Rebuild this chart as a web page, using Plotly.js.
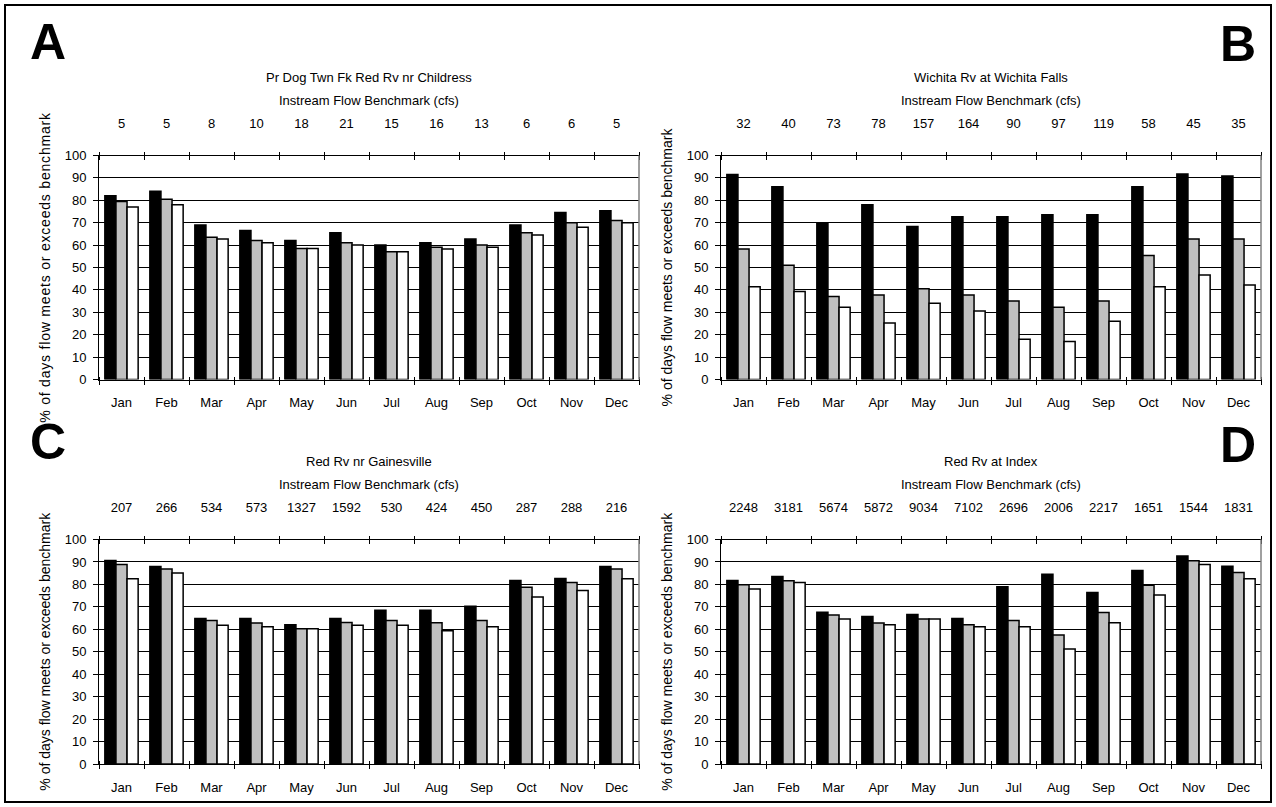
<!DOCTYPE html>
<html>
<head>
<meta charset="utf-8">
<script src="https://cdn.plot.ly/plotly-3.0.1.min.js"></script>
<style>
html,body{margin:0;padding:0;background:#fff;}
#chart{width:1276px;height:807px;}
#chart .ytitle{letter-spacing:0.8px;}
</style>
</head>
<body>
<div id="chart"></div>
<script>
// ---------------- data ----------------
const months = ['Jan','Feb','Mar','Apr','May','Jun','Jul','Aug','Sep','Oct','Nov','Dec'];

const titleA = 'Pr Dog Twn Fk Red Rv nr Childress';
const benchA = [5,5,8,10,18,21,15,16,13,6,6,5];
const seriesA1 = [82,84,69,66.5,62,65.5,60,61,62.7,69,74.5,75.3];
const seriesA2 = [79.5,80.5,63.5,62,58.5,61,57,59,60,65.5,70,71];
const seriesA3 = [77,78,62.7,61,58.5,60,57,58.3,59,64.5,68,70];

const titleB = 'Wichita Rv at Wichita Falls';
const benchB = [32,40,73,78,157,164,90,97,119,58,45,35];
const seriesB1 = [91.5,86,70,78,68.3,72.7,72.7,73.6,73.6,86,91.7,90.8];
const seriesB2 = [58.3,51,37,37.7,40.5,37.7,35,32.2,35,55.4,62.7,62.7];
const seriesB3 = [41.4,39.3,32.2,25.2,34,30.6,18,17,26,41.4,46.6,42.2];

const titleC = 'Red Rv nr Gainesville';
const benchC = [207,266,534,573,1327,1592,530,424,450,287,288,216];
const seriesC1 = [90.6,88,64.8,64.8,62,64.8,68.5,68.5,70.3,81.7,82.6,88];
const seriesC2 = [88.9,86.9,63.9,62.8,60.2,63,63.9,62.9,63.9,78.7,80.8,86.9];
const seriesC3 = [82.5,85.1,61.8,61.1,60.2,61.8,61.8,59.3,61.1,74.4,77.3,82.5];

const titleD = 'Red Rv at Index';
const benchD = [2248,3181,5674,5872,9034,7102,2696,2006,2217,1651,1544,1831];
const seriesD1 = [81.7,83.5,67.6,65.7,66.6,64.8,79,84.5,76.4,86.2,92.6,88.1];
const seriesD2 = [79.8,81.6,66.4,62.8,64.6,62,63.9,57.5,67.5,79.6,90.5,85.3];
const seriesD3 = [78,80.8,64.6,62,64.6,61.1,61.1,51.2,62.9,75.3,88.9,82.5];

const subTitle = 'Instream Flow Benchmark (cfs)';
const yTitle = '% of days flow meets or exceeds benchmark';
const barColors = ['#000000','#c0c0c0','#ffffff'];

// ---------------- layout geometry ----------------
const W = 1276, H = 807;
const F = 'Arial, "Liberation Sans", sans-serif';
const panels = [
  {letter:'A', title:titleA, bench:benchA, s:[seriesA1,seriesA2,seriesA3], x0:99,  x1:639,  yt:155.5, yb:379.5, lx:48,   ly:42},
  {letter:'B', title:titleB, bench:benchB, s:[seriesB1,seriesB2,seriesB3], x0:721, x1:1261, yt:155.5, yb:379.5, lx:1238, ly:44},
  {letter:'C', title:titleC, bench:benchC, s:[seriesC1,seriesC2,seriesC3], x0:99,  x1:639,  yt:539.5, yb:764,   lx:48,   ly:442},
  {letter:'D', title:titleD, bench:benchD, s:[seriesD1,seriesD2,seriesD3], x0:721, x1:1261, yt:539.5, yb:764,   lx:1238, ly:445}
];
const px = x => x / W;
const py = y => 1 - y / H;

const idx = months.map((m,k) => k);
const bounds = months.map((m,k) => k - 0.5).concat([months.length - 0.5]);

const traces = [];
const layout = {
  width: W, height: H, autosize: false,
  margin: {l:0, r:0, t:0, b:0},
  paper_bgcolor: '#fff', plot_bgcolor: 'rgba(0,0,0,0)',
  showlegend: false,
  barmode: 'group', bargap: 0.26, bargroupgap: 0,
  font: {family: F, size: 13, color: '#000'},
  annotations: [], shapes: []
};
const axName = (p, n) => (n === 1 ? p : p + n);
const tickFont = {family: F, size: 13, color: '#000'};

panels.forEach((p, i) => {
  const nb = 4*i + 1, nt = 4*i + 2, nk1 = 4*i + 3, nk2 = 4*i + 4, ny = i + 1;
  const xb = axName('x', nb), xt = axName('x', nt), xk1 = axName('x', nk1), xk2 = axName('x', nk2), yy = axName('y', ny);
  const dom = [px(p.x0), px(p.x1)];

  p.s.forEach((vals, j) => {
    traces.push({type:'bar', x: months, y: vals, xaxis: xb, yaxis: yy,
      marker: {color: barColors[j], line: {color: '#000', width: 1.5}},
      hoverinfo: 'x+y', showlegend: false});
  });
  [xt, xk1, xk2].forEach(a => traces.push({type:'scatter', mode:'markers', x:[0], y:[null],
    xaxis: a, yaxis: yy, hoverinfo:'skip', showlegend:false}));

  layout['xaxis' + (nb === 1 ? '' : nb)] = {
    domain: dom, anchor: yy, type: 'category', categoryorder: 'array', categoryarray: months,
    range: [-0.5, 11.5], showline: true, linecolor: '#000', linewidth: 1, ticks: '',
    showgrid: false, zeroline: false, tickfont: tickFont, ticklabelstandoff: 11, fixedrange: true
  };
  layout['xaxis' + nt] = {
    domain: dom, anchor: yy, overlaying: xb, side: 'top', type: 'linear', range: [-0.5, 11.5],
    tickmode: 'array', tickvals: idx, ticktext: p.bench.map(String), ticks: '',
    showline: true, linecolor: '#000', linewidth: 1, showgrid: false, zeroline: false,
    tickfont: tickFont, ticklabelstandoff: 21, fixedrange: true
  };
  layout['xaxis' + nk1] = {
    domain: dom, anchor: 'free', position: py(p.yb - 4), overlaying: xb, side: 'bottom',
    type: 'linear', range: [-0.5, 11.5], tickmode: 'array', tickvals: bounds,
    ticks: 'outside', ticklen: 8, tickwidth: 1, tickcolor: '#000',
    showticklabels: false, showline: false, showgrid: false, zeroline: false, fixedrange: true
  };
  layout['xaxis' + nk2] = {
    domain: dom, anchor: 'free', position: py(p.yt + 4), overlaying: xb, side: 'top',
    type: 'linear', range: [-0.5, 11.5], tickmode: 'array', tickvals: bounds,
    ticks: 'outside', ticklen: 8, tickwidth: 1, tickcolor: '#000',
    showticklabels: false, showline: false, showgrid: false, zeroline: false, fixedrange: true
  };
  layout['yaxis' + (ny === 1 ? '' : ny)] = {
    domain: [py(p.yb), py(p.yt)], anchor: xb, range: [0, 100], tick0: 0, dtick: 10,
    showgrid: true, gridcolor: '#000', gridwidth: 1, showline: true, linecolor: '#000', linewidth: 1,
    ticks: 'outside', ticklen: 5, tickcolor: '#000', zeroline: false, tickfont: tickFont,
    ticklabelstandoff: 4,
    title: {text: yTitle, font: {family: F, size: 14, color: '#000'}, standoff: 10},
    fixedrange: true
  };
  // right edge of the plot box
  layout.shapes.push({type:'line', xref: xb + ' domain', yref: yy + ' domain', x0:1, x1:1, y0:0, y1:1,
    line: {color:'#808080', width:1.5}});
  // titles
  const cx = px((p.x0 + p.x1) / 2);
  layout.annotations.push({xref:'paper', yref:'paper', x: cx, y: py(p.yt - 78), text: p.title,
    showarrow:false, xanchor:'center', yanchor:'middle', font:{family:F, size:13, color:'#000'}});
  layout.annotations.push({xref:'paper', yref:'paper', x: cx, y: py(p.yt - 55), text: subTitle,
    showarrow:false, xanchor:'center', yanchor:'middle', font:{family:F, size:13, color:'#000'}});
  layout.annotations.push({xref:'paper', yref:'paper', x: px(p.lx), y: py(p.ly), text: '<b>' + p.letter + '</b>',
    showarrow:false, xanchor:'center', yanchor:'middle', font:{family:F, size:50, color:'#000'}});
});

// outer frame
layout.shapes.push({type:'rect', xref:'paper', yref:'paper', x0: px(5), x1: px(1271), y0: py(802), y1: py(5),
  line: {color:'#000', width:2}, fillcolor:'rgba(0,0,0,0)'});

Plotly.newPlot('chart', traces, layout, {displayModeBar:false, staticPlot:true});
</script>
</body>
</html>
